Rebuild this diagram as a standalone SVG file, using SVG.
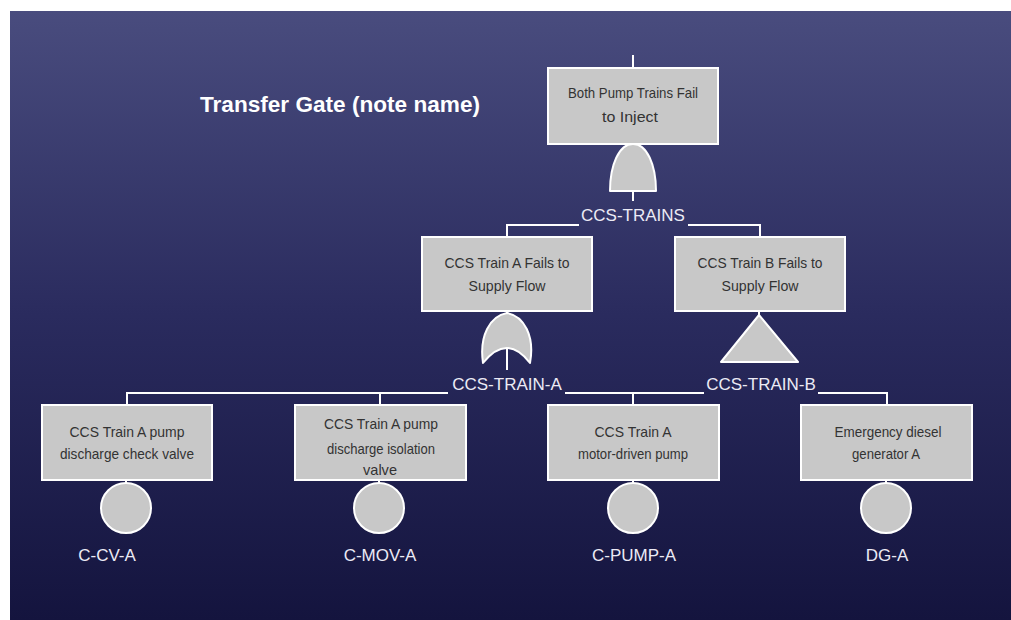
<svg xmlns="http://www.w3.org/2000/svg" width="1011" height="620" viewBox="0 0 1011 620">
<defs>
<linearGradient id="bg" x1="0" y1="0" x2="0" y2="1">
<stop offset="0" stop-color="#494c7e"/>
<stop offset="0.5" stop-color="#2a2b5e"/>
<stop offset="1" stop-color="#14143e"/>
</linearGradient>
</defs>
<style>
.box{fill:#c8c8c8;stroke:#ffffff;stroke-width:2}
.gate{fill:#c8c8c8;stroke:#ffffff;stroke-width:2;stroke-linejoin:round}
.bt{font-family:"Liberation Sans",Arial,sans-serif;font-size:15px;fill:#333333;text-anchor:middle}
.lbl{font-family:"Liberation Sans",Arial,sans-serif;font-size:17px;fill:#ecebf5;text-anchor:middle}
.ln{stroke:#ffffff;stroke-width:2;fill:none}
</style>
<rect x="0" y="0" width="1011" height="620" fill="#ffffff"/>
<rect x="10" y="11" width="1001" height="609" fill="url(#bg)"/>
<text x="200" y="112" font-family="Liberation Sans,Arial,sans-serif" font-size="22" font-weight="bold" fill="#ffffff" textLength="280" lengthAdjust="spacingAndGlyphs">Transfer Gate (note name)</text>

<g id="connectors" class="ln">
<line x1="633" y1="55" x2="633" y2="68"/>
<line x1="633" y1="190" x2="633" y2="201"/>
<polyline points="579,225 507,225 507,237"/>
<polyline points="688,225 760,225 760,237"/>
<line x1="507" y1="311" x2="507" y2="313"/>
<line x1="759" y1="311" x2="759" y2="315"/>
<polyline points="448,393 127,393 127,405"/>
<line x1="380" y1="393" x2="380" y2="405"/>
<line x1="565" y1="393" x2="704" y2="393"/>
<line x1="633" y1="393" x2="633" y2="405"/>
<polyline points="818,393 887,393 887,405"/>
<line x1="126" y1="480" x2="126" y2="483"/>
<line x1="379" y1="480" x2="379" y2="483"/>
<line x1="633" y1="480" x2="633" y2="483"/>
<line x1="886" y1="480" x2="886" y2="483"/>
</g>

<g id="top">
<rect class="box" x="548" y="68" width="170" height="76"/>
<text class="bt" x="633" y="98" textLength="130" lengthAdjust="spacingAndGlyphs">Both Pump Trains Fail</text>
<text class="bt" x="630" y="122" textLength="56" lengthAdjust="spacingAndGlyphs">to Inject</text>
</g>
<g id="gate-ccs-trains">
<path class="gate" d="M610,191 C610,165 619,144 633,144 C647,144 656,165 656,191 Z"/>
<text class="lbl" x="633" y="221">CCS-TRAINS</text>
</g>

<g id="train-a">
<rect class="box" x="422" y="237" width="170" height="74"/>
<text class="bt" x="507" y="268" textLength="125" lengthAdjust="spacingAndGlyphs">CCS Train A Fails to</text>
<text class="bt" x="507" y="291" textLength="77" lengthAdjust="spacingAndGlyphs">Supply Flow</text>
</g>
<g id="gate-ccs-train-a">
<path class="gate" d="M483,363 C479,336 490,316 507,313 C524,316 535,336 530,363 Q507,333 483,363 Z"/>
<line class="ln" x1="507" y1="348" x2="507" y2="370"/>
<text class="lbl" x="507" y="390">CCS-TRAIN-A</text>
</g>

<g id="train-b">
<rect class="box" x="675" y="237" width="170" height="74"/>
<text class="bt" x="760" y="268" textLength="125" lengthAdjust="spacingAndGlyphs">CCS Train B Fails to</text>
<text class="bt" x="760" y="291" textLength="77" lengthAdjust="spacingAndGlyphs">Supply Flow</text>
</g>
<g id="transfer-ccs-train-b">
<polygon class="gate" points="759,315 798,362 721,362"/>
<text class="lbl" x="761" y="390">CCS-TRAIN-B</text>
</g>

<g id="c-cv-a">
<rect class="box" x="42" y="405" width="170" height="75"/>
<text class="bt" x="127" y="437" textLength="115" lengthAdjust="spacingAndGlyphs">CCS Train A pump</text>
<text class="bt" x="127" y="459" textLength="134" lengthAdjust="spacingAndGlyphs">discharge check valve</text>
<circle class="gate" cx="126" cy="508" r="25"/>
<text class="lbl" x="107" y="561">C-CV-A</text>
</g>

<g id="c-mov-a">
<rect class="box" x="295" y="405" width="171" height="75"/>
<text class="bt" x="381" y="429" textLength="114" lengthAdjust="spacingAndGlyphs">CCS Train A pump</text>
<text class="bt" x="381" y="454" textLength="108" lengthAdjust="spacingAndGlyphs">discharge isolation</text>
<text class="bt" x="380" y="475" textLength="34" lengthAdjust="spacingAndGlyphs">valve</text>
<circle class="gate" cx="379" cy="508" r="25"/>
<text class="lbl" x="380" y="561">C-MOV-A</text>
</g>

<g id="c-pump-a">
<rect class="box" x="548" y="405" width="171" height="75"/>
<text class="bt" x="633" y="437" textLength="77" lengthAdjust="spacingAndGlyphs">CCS Train A</text>
<text class="bt" x="633" y="459" textLength="110" lengthAdjust="spacingAndGlyphs">motor-driven pump</text>
<circle class="gate" cx="633" cy="508" r="25"/>
<text class="lbl" x="634" y="561">C-PUMP-A</text>
</g>

<g id="dg-a">
<rect class="box" x="801" y="405" width="171" height="75"/>
<text class="bt" x="888" y="437" textLength="107" lengthAdjust="spacingAndGlyphs">Emergency diesel</text>
<text class="bt" x="886" y="459" textLength="68" lengthAdjust="spacingAndGlyphs">generator A</text>
<circle class="gate" cx="886" cy="508" r="25"/>
<text class="lbl" x="887" y="561">DG-A</text>
</g>
</svg>
